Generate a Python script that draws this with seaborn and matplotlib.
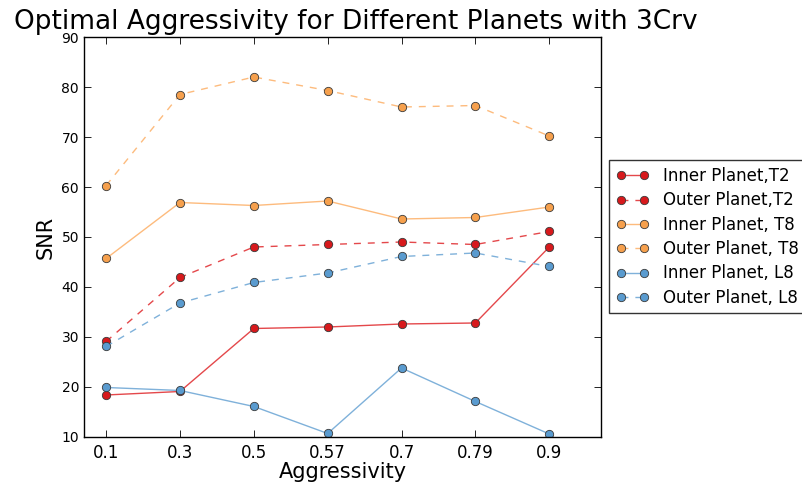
import matplotlib
matplotlib.use("Agg")
import matplotlib.pyplot as plt
import seaborn as sns
import pandas as pd

aggressivity = ["0.1", "0.3", "0.5", "0.57", "0.7", "0.79", "0.9"]
inner_t2 = [18.4, 19.1, 31.7, 32.0, 32.6, 32.8, 48.0]
outer_t2 = [29.1, 41.9, 48.0, 48.5, 49.0, 48.5, 51.1]
inner_t8 = [45.7, 56.9, 56.3, 57.2, 53.6, 53.9, 56.0]
outer_t8 = [60.3, 78.5, 82.0, 79.3, 76.0, 76.3, 70.2]
inner_l8 = [19.9, 19.3, 16.1, 10.7, 23.8, 17.1, 10.6]
outer_l8 = [28.1, 36.8, 40.9, 42.8, 46.1, 46.8, 44.1]
series_names = ["Inner Planet,T2", "Outer Planet,T2", "Inner Planet, T8",
                "Outer Planet, T8", "Inner Planet, L8", "Outer Planet, L8"]

sns.set_theme(style="ticks")
plt.rcParams["font.family"] = ["DejaVu Sans"]
plt.rcParams.update({
    "xtick.direction": "in", "ytick.direction": "in",
    "xtick.top": True, "ytick.right": True,
    "xtick.major.size": 5, "ytick.major.size": 5,
    "xtick.major.width": 0.6, "ytick.major.width": 0.6,
    "axes.edgecolor": "black", "axes.linewidth": 1.0,
    "xtick.color": "black", "ytick.color": "black",
    "text.color": "black", "axes.labelcolor": "black",
})

fig = plt.figure(figsize=(8.02, 4.87), dpi=100)
ax = fig.add_axes([0.1047, 0.1027, 0.6446, 0.8213])

values = [inner_t2, outer_t2, inner_t8, outer_t8, inner_l8, outer_l8]
line_colors = ["#e4484b", "#e4484b", "#fdbb7d", "#fdbb7d", "#7fb1da", "#7fb1da"]
face_colors = ["#d7191c", "#d7191c", "#f6a04d", "#f6a04d", "#5a9bcf", "#5a9bcf"]
styles = ["-", (0, (5, 5)), "-", (0, (5, 5)), "-", (0, (5, 5))]

pos = list(range(len(aggressivity)))
for name, vals, lc, fc, ls in zip(series_names, values, line_colors, face_colors, styles):
    df = pd.DataFrame({"x": pos, "y": vals})
    sns.lineplot(data=df, x="x", y="y", ax=ax, color=lc, linestyle=ls,
                 linewidth=1.0, marker="o", markersize=6,
                 markerfacecolor=fc, markeredgecolor="#3a3a3a",
                 markeredgewidth=0.6, label=name)

ax.set_xlim(-0.3, 6.7)
ax.set_ylim(10, 90)
ax.set_xticks(pos)
ax.set_xticklabels(aggressivity)
ax.set_yticks(range(10, 91, 10))
ax.tick_params(axis="x", labelsize=12, pad=5)
ax.tick_params(axis="y", labelsize=10)
ax.set_xlabel("Aggressivity", fontsize=15, labelpad=0)
ax.set_ylabel("SNR", fontsize=15)
ax.set_title("Optimal Aggressivity for Different Planets with 3Crv", fontsize=19,
             x=0.526, pad=6)

leg = ax.legend(loc="center left", bbox_to_anchor=(1.0, 0.5), numpoints=2,
                fontsize=12, frameon=True, fancybox=False, handlelength=2.0,
                borderaxespad=0.5, labelspacing=0.38)
leg.get_frame().set_edgecolor("black")
leg.get_frame().set_linewidth(1.0)

fig.savefig("out.png", dpi=100)
